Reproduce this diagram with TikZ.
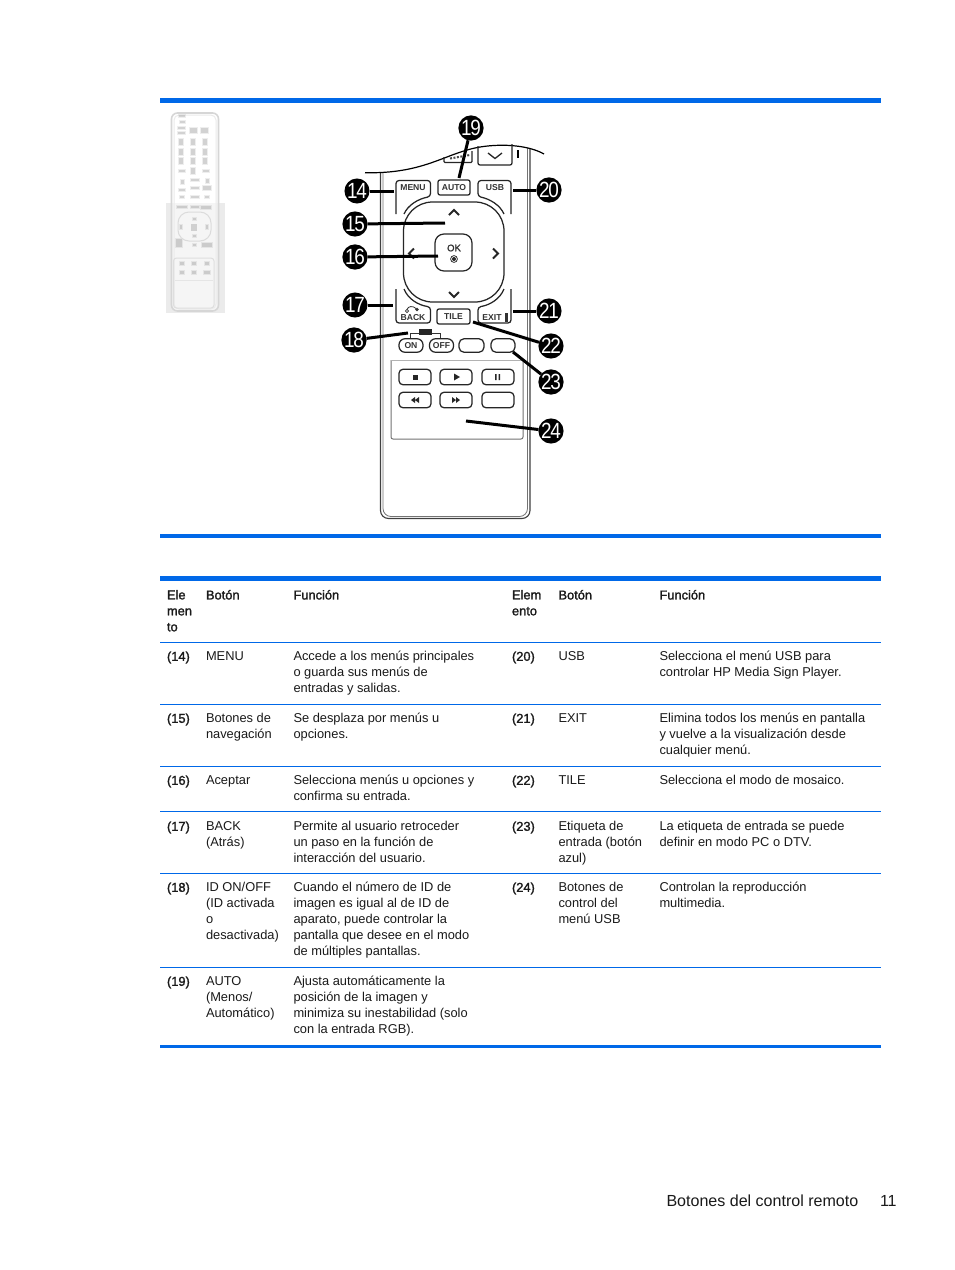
\documentclass[tikz,border=0pt]{standalone}
\usepackage{fontspec}
\setmainfont{Liberation Sans}
\newfontfamily\fakeb[FakeBold=1.6]{Liberation Sans}
\newfontfamily\numf[FakeStretch=.86,LetterSpace=-5]{Liberation Sans}
\definecolor{hpblue}{HTML}{0068E8}
\definecolor{inkc}{HTML}{1A1A1A}
\tikzset{
 x=1pt,y=-1pt,
 tx/.style={anchor=north west,inner sep=0pt,outer sep=0pt,align=left,text=inkc,yshift=-2pt,font=\fontsize{12.85}{16}\selectfont},
 hd/.style={tx,font=\fontsize{12.85}{16}\selectfont\fakeb},
 thick rule/.style={fill=hpblue,draw=none},
 thin rule/.style={draw=hpblue,line width=1pt},
 rm/.style={draw=black!85,line width=1.25pt,rounded corners=3pt},
 lbl/.style={inner sep=0pt,font=\fontsize{8.6}{8}\selectfont\bfseries,text=black!80},
 btn/.style={draw=black!85,line width=1.25pt,rounded corners=3pt,fill=white,inner sep=0pt,outer sep=0pt,font=\fontsize{8.6}{8}\selectfont\bfseries,text=black!80},
 num/.style={circle,fill=black,draw=none,minimum size=25pt,inner sep=0pt,outer sep=0pt,text=white,font=\fontsize{22}{20}\selectfont\numf},
 lead/.style={draw=black,line width=3pt},
 thumb/.style={fill=black!50,draw=none,fill opacity=.13},
 thumbs/.style={fill=black!60,draw=none,fill opacity=.2},
}
\newcommand{\Num}[3]{\node[num] (n#3) at (#1,#2) {#3};}
\begin{document}
\begin{tikzpicture}
\useasboundingbox (0,0) rectangle (954,1270);
\fill[white] (0,0) rectangle (954,1270);
% rules
\path[thick rule] (160,98) rectangle (881,103);
\path[thick rule] (160,534) rectangle (881,538);
\path[thick rule] (160,576) rectangle (881,581);
\path[thick rule] (160,1045) rectangle (881,1048);
\foreach \yy in {642.5,704.5,766.5,811.5,873.5,967.5}{\draw[thin rule] (160,\yy) -- (881,\yy);}
% thumbnail
\fill[black!8] (166,203) rectangle (225,313);
\draw[black!16,fill=white,fill opacity=.5,line width=1.6pt,rounded corners=6pt] (171.5,113) rectangle (218.5,311);
\draw[black!8,line width=1pt,rounded corners=5pt] (174,115) rectangle (216,309);
\foreach \xx/\yy/\ww/\hh in {182/116/3/1.2,182/122/2.5/1.2,181/128/3.5/1,181/133/3.5/1,193/130/3.5/2.5,204/130/3.5/2.5,181/142/2/3,193/142/2/3,205/142/2/3,181/152/2/3,193/152/2/3,205/152/2/3,181/161/2/3,193/161/2/3,205/161/2/3,182/171/3/1.2,193/171/2/3,206/171/3/1.2,182/182/1.5/2,195/180/4/1,207/181/1.5/2,182/190/3/1,195/188/4/1,207/188/4/2,182/197/2/1,195/197/4/1.2,207/197/2/1,182/207/5/1,195/207/4/1,206/207/5/1.5,194/219/1.5/1,181/227/1/2,207/227/1/2,194/236/1.5/1,179/243/3/4,207/245/5/2,194/245/1.5/1,182/263/2/1.5,194/263/2/1.5,207/263/2/1.5,182/272/2/1.5,194/272/2/1.5,207/272/3/1.5}{\path[thumb] (\xx-\ww-1,\yy-\hh-1) rectangle (\xx+\ww+1,\yy+\hh+1);\path[thumbs] (\xx-\ww,\yy-\hh) rectangle (\xx+\ww,\yy+\hh);}
\fill[black!40,fill opacity=.4] (191,224) rectangle (197,231);
\draw[black!14,line width=1pt,rounded corners=11pt] (178,212) rectangle (211,241);
\draw[black!13,line width=1pt,rounded corners=3pt] (173.5,258) rectangle (214,308);
\draw[black!10,line width=1pt] (175,280) -- (213,280);
% remote body
\draw[rm,draw=black!75,line width=1.1pt,rounded corners=8pt] (380.5,172) -- (380.5,518.5) -- (530,518.5) -- (530,146);
\draw[black!55,line width=.8pt,rounded corners=8pt] (383,172) -- (383,516.5) -- (527.5,516.5) -- (527.5,146);
\fill[white] (360,130) -- (545,130) -- (545,153) .. controls (530,146) and (505,143) .. (480,147) .. controls (445,153) and (425,172) .. (365,172.7) -- cycle;
\draw[black,line width=1.2pt] (365,172.7) .. controls (425,174) and (445,153) .. (480,147) .. controls (505,143) and (530,146) .. (544,154);
% top buttons
\draw[rm,rounded corners=2pt] (478,146) -- (478,165) -- (512,165) -- (512,144);
\draw[black!85,line width=1.3pt] (488,153) -- (495,158.5) -- (502,153);
\draw[rm,rounded corners=1pt] (444,157) -- (444,162.5) -- (472,162.5) -- (472,151);
\draw[black!70,line width=2pt,dash pattern=on 2pt off 1.5pt] (450,158.5) -- (470,155);
\draw[black,line width=1.2pt] (518,150) -- (518,158);
% menu / usb / back / exit
\draw[rm] (396,214) -- (396,180.5) -- (430.5,180.5) -- (430.5,196.5) .. controls (418,199) and (408,205) .. (404,214);
\node[lbl] (menulbl) at (413,188) {MENU};
\draw[rm] (511,214) -- (511,180.5) -- (478,180.5) -- (478,196.5) .. controls (490,199) and (500,205) .. (504,214);
\node[lbl] (usblbl) at (495,188) {USB};
\draw[rm] (396,289) -- (396,323) -- (430.5,323) -- (430.5,307) .. controls (418,305) and (408,299) .. (404,289);
\node[lbl] (backlbl) at (413,318) {BACK};
\draw[black!80,line width=.8pt] (407,309.5) .. controls (408,306) and (413,305.5) .. (416,308.5);
\fill[black!80] (417,309.5) circle (1.8pt);
\draw[black!80,line width=.7pt] (407,311) circle (1.6pt);
\draw[rm] (511,289) -- (511,323) -- (478,323) -- (478,307) .. controls (490,305) and (500,299) .. (504,289);
\node[lbl] (exitlbl) at (492,317.5) {EXIT};
\fill[black!80] (505,313) rectangle (508,322);
\node[btn,minimum width=32pt,minimum height=15pt,rounded corners=2pt] (auto) at (454,187.5) {AUTO};
\node[btn,minimum width=33pt,minimum height=15pt,rounded corners=2pt] (tile) at (453.5,316.5) {TILE};
% nav
\draw[rm,rounded corners=29pt] (403.5,202) rectangle (504,302);
\node[btn,minimum width=37pt,minimum height=37pt,rounded corners=9pt] (ok) at (453.5,252.5) {};
\node[lbl,font=\fontsize{9.5}{10}\selectfont\fakeb] (oklbl) at (454,248) {OK};
\draw[black!80,line width=.8pt] (454,259) circle (3.4pt);
\fill[black!85] (454,259) circle (2pt);
\draw[black!85,line width=1.9pt] (449,215) -- (454,210) -- (459,215);
\draw[black!85,line width=1.9pt] (449,292) -- (454,297) -- (459,292);
\draw[black!85,line width=1.9pt] (414,248.5) -- (409,253.5) -- (414,258.5);
\draw[black!85,line width=1.9pt] (493,248.5) -- (498,253.5) -- (493,258.5);
% id row
\draw[black!80,line width=.7pt] (410.5,339) -- (410.5,333.5) -- (440.5,333.5) -- (440.5,339);
\fill[black!85] (419,329) rectangle (432,335);
\node[btn,minimum width=24pt,minimum height=13.5pt,rounded corners=6pt] (on) at (411,345.5) {ON};
\node[btn,minimum width=24pt,minimum height=13.5pt,rounded corners=6pt] (off) at (441.5,345.5) {OFF};
\node[btn,minimum width=25pt,minimum height=13.5pt,rounded corners=5pt] (blank1) at (471.5,345.5) {};
\node[btn,minimum width=24pt,minimum height=13.5pt,rounded corners=5pt] (blank2) at (503,345.5) {};
% media panel
\draw[black!55,line width=1pt,rounded corners=2pt] (391,360) -- (391,439) -- (523,439) -- (523,360);
\draw[black!30,line width=.6pt] (391,360) -- (523,360);
\node[btn,minimum width=32pt,minimum height=15.5pt,rounded corners=4pt] (m1) at (415,377) {};
\node[btn,minimum width=32pt,minimum height=15.5pt,rounded corners=4pt] (m2) at (456,377) {};
\node[btn,minimum width=32pt,minimum height=15.5pt,rounded corners=4pt] (m3) at (498,377) {};
\node[btn,minimum width=32pt,minimum height=15.5pt,rounded corners=4pt] (m4) at (415,400) {};
\node[btn,minimum width=32pt,minimum height=15.5pt,rounded corners=4pt] (m5) at (456,400) {};
\node[btn,minimum width=32pt,minimum height=15.5pt,rounded corners=4pt] (m6) at (498,400) {};
\fill[black!85] (412.5,374.5) rectangle (417.5,379.5);
\fill[black!85] (454,373.5) -- (460,377) -- (454,380.5) -- cycle;
\fill[black!85] (495,374) rectangle (496.6,380) (498.6,374) rectangle (500.2,380);
\fill[black!85] (415,397) -- (411,400) -- (415,403) -- cycle (419,397) -- (415,400) -- (419,403) -- cycle;
\fill[black!85] (452,397) -- (456,400) -- (452,403) -- cycle (456,397) -- (460,400) -- (456,403) -- cycle;
% numbers
\coordinate (e14) at (394,191);\coordinate (e15) at (445,223);\coordinate (e16) at (438,256);
\coordinate (e17) at (393,305);\coordinate (e18) at (408,333);\coordinate (e19) at (459,178);
\coordinate (e20) at (513,190);\coordinate (e21) at (513,311);\coordinate (e22) at (473,322);
\coordinate (e23) at (513,352);\coordinate (e24) at (466,421);
\Num{357}{191}{14}\Num{355}{224}{15}\Num{355}{257}{16}\Num{355}{305}{17}\Num{354}{340}{18}
\Num{471}{128}{19}\Num{549}{190}{20}\Num{549}{311}{21}\Num{551}{346}{22}\Num{551}{382}{23}\Num{551}{431}{24}
\foreach \k in {14,...,24}{\draw[lead] (n\k) -- (e\k);}
% table
\node[hd] (h1) at (167,588) {Ele\\men\\to};
\node[hd] (h2) at (206,588) {Botón};
\node[hd] (h3) at (293.5,588) {Función};
\node[hd] (h4) at (512,588) {Elem\\ento};
\node[hd] (h5) at (558.5,588) {Botón};
\node[hd] (h6) at (659.5,588) {Función};
\node[hd] (a14) at (167,649.5) {(14)};
\node[tx] (b14) at (206,649.6) {MENU};
\node[tx] (c14) at (293.5,649) {Accede a los menús principales\\o guarda sus menús de\\entradas y salidas.};
\node[hd] (a20) at (512,649.5) {(20)};
\node[tx] (b20) at (558.5,649.6) {USB};
\node[tx] (c20) at (659.5,649) {Selecciona el menú USB para\\controlar HP Media Sign Player.};
\node[hd] (a15) at (167,711.5) {(15)};
\node[tx] (b15) at (206,711.6) {Botones de\\navegación};
\node[tx] (c15) at (293.5,711) {Se desplaza por menús u\\opciones.};
\node[hd] (a21) at (512,711.5) {(21)};
\node[tx] (b21) at (558.5,711.6) {EXIT};
\node[tx] (c21) at (659.5,711) {Elimina todos los menús en pantalla\\y vuelve a la visualización desde\\cualquier menú.};
\node[hd] (a16) at (167,773.5) {(16)};
\node[tx] (b16) at (206,773.6) {Aceptar};
\node[tx] (c16) at (293.5,773) {Selecciona menús u opciones y\\confirma su entrada.};
\node[hd] (a22) at (512,773.5) {(22)};
\node[tx] (b22) at (558.5,773.6) {TILE};
\node[tx] (c22) at (659.5,773) {Selecciona el modo de mosaico.};
\node[hd] (a17) at (167,819.5) {(17)};
\node[tx] (b17) at (206,819.6) {BACK\\(Atrás)};
\node[tx] (c17) at (293.5,819) {Permite al usuario retroceder\\un paso en la función de\\interacción del usuario.};
\node[hd] (a23) at (512,819.5) {(23)};
\node[tx] (b23) at (558.5,819) {Etiqueta de\\entrada (botón\\azul)};
\node[tx] (c23) at (659.5,819) {La etiqueta de entrada se puede\\definir en modo PC o DTV.};
\node[hd] (a18) at (167,880.5) {(18)};
\node[tx] (b18) at (206,880) {ID ON/OFF\\(ID activada\\o\\desactivada)};
\node[tx] (c18) at (293.5,880) {Cuando el número de ID de\\imagen es igual al de ID de\\aparato, puede controlar la\\pantalla que desee en el modo\\de múltiples pantallas.};
\node[hd] (a24) at (512,880.5) {(24)};
\node[tx] (b24) at (558.5,880) {Botones de\\control del\\menú USB};
\node[tx] (c24) at (659.5,880) {Controlan la reproducción\\multimedia.};
\node[hd] (a19) at (167,974.5) {(19)};
\node[tx] (b19) at (206,974.6) {AUTO\\(Menos/\\Automático)};
\node[tx] (c19) at (293.5,974) {Ajusta automáticamente la\\posición de la imagen y\\minimiza su inestabilidad (solo\\con la entrada RGB).};
% footer
\node[tx,yshift=-1pt,font=\fontsize{16.05}{18}\selectfont] (foot) at (666.5,1192) {Botones del control remoto};
\node[tx,yshift=-1pt,font=\fontsize{16.05}{18}\selectfont] (page) at (880,1192) {11};
\end{tikzpicture}
\end{document}
